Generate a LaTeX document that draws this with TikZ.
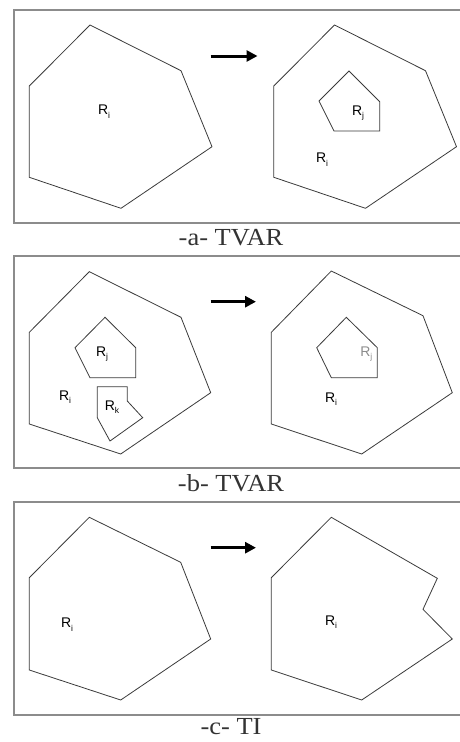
\documentclass[tikz,border=0pt]{standalone}
\usepackage{fontspec}
\usepackage{graphicx}
\setmainfont{Liberation Serif}
\newfontfamily\labelfont{Liberation Sans}
\usetikzlibrary{arrows.meta}
\definecolor{framegray}{HTML}{8C8C8C}
\definecolor{edgegray}{HTML}{3A3A3A}
\definecolor{captiongray}{HTML}{333333}
% region name R with a lowered index
\newcommand{\reg}[1]{R\raisebox{-3.4pt}{\fontsize{8.5}{8.5}\selectfont #1}}
\newcommand{\capt}[1]{\scalebox{1.08}[1]{#1}}

\begin{document}
\begin{tikzpicture}[x=1pt,y=-1pt,
  frame/.style={draw=framegray,line width=2pt},
  region/.style={draw=edgegray,line width=0.8pt,line join=miter},
  rlabel/.style={font=\labelfont\fontsize{14}{14}\selectfont,inner sep=0pt,text=black},
  caption/.style={font=\fontsize{24.5}{25}\selectfont,text=captiongray,inner sep=0pt,anchor=base},
  move/.style={line width=3pt,-{Triangle[length=11pt,width=11pt]}}
]
\useasboundingbox (0,0) rectangle (459,742);

% ---------- panel a: a region appears inside R_i ----------
\begin{scope}[shift={(0,9.5)}]
  \draw[frame] (460,0) -- (13.5,0) -- (13.5,213) -- (460,213);
  \draw[region] (90,15.5) -- (181,61.2) -- (212,137.2) -- (121,198.8)
                -- (29.3,167.8) -- (29.3,76.5) -- cycle;
  \node[rlabel] (a-ri) at (104,102) {\reg{i}};
  \coordinate (a-from) at (210.5,46.5);
  \coordinate (a-to) at (257.5,46.5);
  \draw[move] (a-from) -- (a-to);
  \draw[region] (334.5,15.5) -- (425.5,61.2) -- (456.5,137.2) -- (365.5,198.8)
                -- (273.8,167.8) -- (273.8,76.5) -- cycle;
  \draw[region] (349,61.5) -- (379.7,92.2) -- (379.7,121.5) -- (334,121.5)
                -- (319,91.5) -- cycle;
  \node[rlabel] (a-rj2) at (358,103.5) {\reg{j}};
  \node[rlabel] (a-ri2) at (322,150) {\reg{i}};
\end{scope}
\node[caption] (cap-a) at (231,245.7) {\capt{-a- TVAR}};

% ---------- panel b: R_k disappears from R_i ----------
\begin{scope}[shift={(0,256)}]
  \draw[frame] (460,0) -- (13.5,0) -- (13.5,212) -- (460,212);
  \draw[region] (89.3,15.7) -- (181,61.3) -- (210.7,136.7) -- (120.7,198)
                -- (29.3,168) -- (29.3,76.3) -- cycle;
  \draw[region] (105,61.3) -- (135.7,91.7) -- (135.7,121.7) -- (90,121.7)
                -- (75,91.7) -- cycle;
  \draw[region] (97.3,130.7) -- (127.3,130.7) -- (127.3,145) -- (142.7,161.7)
                -- (110,185) -- (97.3,161.7) -- cycle;
  \node[rlabel] (b-rj) at (102,98) {\reg{j}};
  \node[rlabel] (b-rk) at (112,151) {\reg{k}};
  \node[rlabel] (b-ri) at (65,141) {\reg{i}};
  \coordinate (b-from) at (210.5,45.7);
  \coordinate (b-to) at (256,45.7);
  \draw[move] (b-from) -- (b-to);
  \draw[region] (331.3,15) -- (423,59.7) -- (452.3,136.7) -- (361.7,198)
                -- (271.3,168) -- (271.3,76.3) -- cycle;
  \draw[region] (346.3,61.3) -- (377.3,91.7) -- (377.3,121.7) -- (331.3,121.7)
                -- (316.7,91.7) -- cycle;
  \node[rlabel,text=framegray] (b-rj2) at (366.3,98) {\reg{j}};
  \node[rlabel] (b-ri2) at (331,143) {\reg{i}};
\end{scope}
\node[caption] (cap-b) at (231,491) {\capt{-b- TVAR}};

% ---------- panel c: R_i changes its outline ----------
\begin{scope}[shift={(0,501.7)}]
  \draw[frame] (460,0) -- (13.5,0) -- (13.5,213.3) -- (460,213.3);
  \draw[region] (89.3,15.6) -- (180.7,60.6) -- (210.7,137.3) -- (120.7,198.3)
                -- (29.3,168.3) -- (29.3,76) -- cycle;
  \node[rlabel] (c-ri) at (67,123) {\reg{i}};
  \coordinate (c-from) at (210.5,46);
  \coordinate (c-to) at (256,46);
  \draw[move] (c-from) -- (c-to);
  \draw[region] (331.3,15.6) -- (437.3,76.6) -- (423,107.6) -- (452.3,137.3)
                -- (361.7,198.3) -- (271.3,168.3) -- (271.3,76) -- cycle;
  \node[rlabel] (c-ri2) at (331,120.5) {\reg{i}};
\end{scope}
\node[caption] (cap-c) at (231,734.3) {\capt{-c- TI}};
\end{tikzpicture}
\end{document}
